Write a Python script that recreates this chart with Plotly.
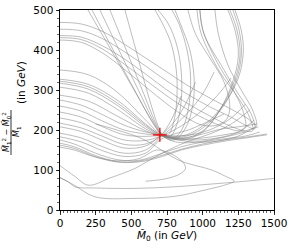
import plotly.graph_objects as go

# ---- data ----
true_m0 = [700]
true_dm = [188]

# upper family: start high on the left edge, bulge at right, exit at the top
h1_x = [0, 150, 300, 450, 600, 750, 900, 1050, 1200, 1310, 1378, 1350, 1270, 1180, 1110, 1086]
h1_y = [469, 465, 446, 415, 380, 345, 310, 280, 252, 230, 212, 250, 300, 360, 440, 500]
h2_x = [0, 150, 300, 450, 600, 750, 900, 1050, 1200, 1300, 1365, 1340, 1250, 1150, 1010, 981]
h2_y = [452, 448, 428, 396, 360, 322, 288, 258, 232, 212, 203, 240, 290, 350, 440, 500]
h3_x = [0, 150, 300, 450, 600, 750, 900, 1050, 1180, 1290, 1350, 1325, 1240, 1120, 990, 960]
h3_y = [436, 432, 410, 378, 340, 300, 265, 235, 212, 198, 198, 235, 285, 345, 440, 500]
h4_x = [0, 150, 300, 450, 600, 750, 900, 1050, 1170, 1260, 1300, 1280, 1200, 1100, 1000, 980]
h4_y = [431, 426, 402, 365, 325, 285, 250, 222, 205, 198, 208, 250, 310, 370, 450, 500]
h5_x = [0, 150, 300, 450, 600, 750, 900, 1000, 1100, 1170, 1190, 1150, 1050, 950, 897]
h5_y = [425, 419, 392, 352, 308, 265, 228, 212, 212, 228, 262, 320, 380, 440, 500]

# middle family: start on the left edge, pass the true point, bulge right, exit at the top
m1_x = [0, 200, 400, 600, 700, 850, 1000, 1150, 1250, 1285, 1270, 1226]
m1_y = [350, 338, 295, 225, 192, 185, 210, 265, 330, 395, 450, 500]
m2_x = [0, 200, 400, 600, 700, 850, 1000, 1150, 1240, 1272, 1255, 1212]
m2_y = [327, 314, 275, 215, 190, 182, 205, 262, 330, 392, 450, 500]
m3_x = [0, 200, 400, 600, 700, 850, 1000, 1130, 1225, 1262, 1240, 1191]
m3_y = [322, 308, 268, 212, 189, 178, 198, 255, 325, 388, 450, 500]
m4_x = [0, 200, 400, 600, 700, 850, 1000, 1120, 1210, 1250, 1230, 1177]
m4_y = [317, 302, 262, 208, 188, 175, 195, 250, 320, 385, 445, 500]
m5_x = [0, 200, 400, 600, 700, 850, 1000, 1100, 1180, 1250, 1380]
m5_y = [307, 292, 252, 203, 187, 180, 190, 200, 205, 208, 215]
m6_x = [0, 200, 400, 600, 700, 850, 1000, 1150, 1300, 1390]
m6_y = [287, 272, 235, 198, 186, 178, 180, 188, 198, 208]

# lines entering from the top-left, through the true point, up to the top again
u1_x = [196, 350, 500, 650, 720, 800, 880, 930, 940, 910, 850, 806]
u1_y = [500, 405, 312, 220, 185, 175, 205, 260, 330, 400, 460, 500]
u2_x = [224, 380, 530, 660, 720, 790, 860, 905, 915, 890, 840, 785]
u2_y = [500, 395, 295, 212, 186, 178, 205, 265, 335, 400, 460, 500]
u3_x = [280, 420, 560, 670, 720, 790, 880, 1000, 1150, 1300]
u3_y = [500, 395, 292, 212, 186, 172, 168, 172, 182, 195]
u4_x = [350, 470, 590, 680, 720, 770, 820, 850, 850, 820, 760, 687]
u4_y = [500, 395, 288, 210, 187, 183, 215, 275, 345, 410, 465, 500]
u5_x = [455, 540, 620, 690, 720, 760, 800, 820, 815, 780, 720, 666]
u5_y = [500, 390, 285, 208, 188, 188, 225, 285, 350, 415, 465, 500]

# lower family: start lower on the left edge, dip, then pass the true point
l1_x = [0, 150, 300, 450, 600, 700, 820, 950, 1100, 1250, 1380]
l1_y = [275, 262, 238, 212, 195, 188, 176, 170, 172, 185, 210]
l2_x = [0, 150, 300, 450, 600, 700, 820, 950, 1100, 1250, 1360]
l2_y = [260, 247, 222, 200, 190, 186, 178, 175, 180, 195, 225]
l3_x = [0, 150, 300, 450, 600, 700, 820, 950, 1080, 1200, 1300]
l3_y = [245, 232, 208, 188, 184, 186, 185, 190, 205, 230, 265]
l4_x = [0, 150, 300, 450, 600, 700, 800, 900, 1000, 1100, 1200]
l4_y = [230, 218, 195, 175, 174, 184, 200, 222, 250, 285, 330]
l5_x = [0, 150, 300, 450, 600, 700, 800, 900, 1000, 1080]
l5_y = [217, 205, 184, 164, 165, 183, 210, 245, 290, 345]
l6_x = [0, 150, 300, 450, 600, 700, 800, 880, 950]
l6_y = [208, 196, 174, 155, 160, 185, 220, 265, 320]
l7_x = [0, 150, 300, 450, 600, 700, 780, 850]
l7_y = [192, 180, 158, 142, 150, 182, 225, 285]
l8_x = [0, 150, 300, 450, 600, 700, 800, 900, 1000, 1150]
l8_y = [183, 170, 148, 134, 142, 175, 190, 200, 215, 240]
l9_x = [0, 100, 250, 400, 550, 700, 850, 1000, 1150, 1300, 1400]
l9_y = [175, 165, 142, 126, 124, 140, 158, 170, 178, 185, 195]
l10_x = [0, 100, 250, 400, 550, 700, 850, 1000, 1150, 1300, 1450]
l10_y = [167, 158, 136, 121, 120, 132, 150, 162, 172, 180, 188]
l11_x = [0, 100, 250, 400, 550, 700, 850, 1000, 1150, 1300, 1450]
l11_y = [162, 154, 133, 120, 122, 135, 152, 165, 175, 182, 190]
l12_x = [0, 100, 250, 400, 550, 680, 780, 860, 880, 840, 740, 600]
l12_y = [157, 150, 132, 123, 128, 150, 140, 120, 104, 90, 78, 72]

# bottom curves
b1_x = [0, 60, 105, 250, 526, 800, 1100, 1300, 1500]
b1_y = [81, 70, 58, 55, 54, 58, 66, 72, 79]
b2_x = [0, 100, 245, 526, 800, 1016, 1170, 1221, 1150, 1063, 829, 596, 400, 250]
b2_y = [81, 62, 33, 29, 34, 50, 64, 72, 86, 100, 125, 175, 200, 215]
b3_x = [0, 100, 199, 350, 526, 630, 760, 900, 1050, 1200, 1330]
b3_y = [111, 85, 62, 80, 104, 125, 150, 172, 190, 215, 250]

curves = [
    (h1_x, h1_y), (h2_x, h2_y), (h3_x, h3_y), (h4_x, h4_y), (h5_x, h5_y),
    (m1_x, m1_y), (m2_x, m2_y), (m3_x, m3_y), (m4_x, m4_y), (m5_x, m5_y), (m6_x, m6_y),
    (u1_x, u1_y), (u2_x, u2_y), (u3_x, u3_y), (u4_x, u4_y), (u5_x, u5_y),
    (l1_x, l1_y), (l2_x, l2_y), (l3_x, l3_y), (l4_x, l4_y), (l5_x, l5_y), (l6_x, l6_y),
    (l7_x, l7_y), (l8_x, l8_y), (l9_x, l9_y), (l10_x, l10_y), (l11_x, l11_y), (l12_x, l12_y),
    (b1_x, b1_y), (b2_x, b2_y), (b3_x, b3_y),
]

x_ticks = [0, 250, 500, 750, 1000, 1250, 1500]
y_ticks = [0, 100, 200, 300, 400, 500]

fig = go.Figure()
for cx, cy in curves:
    fig.add_trace(go.Scatter(
        x=cx, y=cy, mode="lines",
        line=dict(color="rgba(128,128,128,0.75)", width=0.7, shape="spline", smoothing=1.0),
        hoverinfo="skip", showlegend=False, cliponaxis=True))

fig.add_trace(go.Scatter(
    x=true_m0, y=true_dm, mode="markers",
    marker=dict(symbol="cross-thin", size=10, line=dict(color="red", width=1.3), color="red"),
    hoverinfo="skip", showlegend=False))

FONT = "DejaVu Sans"
L, R, T, B = 60, 21, 10, 39
W, H = 295, 249
pw, ph = W - L - R, H - T - B

def px2paper(px, py):
    return (px - L) / pw, (H - B - py) / ph

fig.update_layout(
    width=W, height=H,
    margin=dict(l=L, r=R, t=T, b=B, pad=0),
    paper_bgcolor="white", plot_bgcolor="white",
    font=dict(family=FONT, size=10.5, color="black"),
    hovermode=False,
    xaxis=dict(
        range=[0, 1500], tickvals=x_ticks, ticktext=[str(v) for v in x_ticks],
        showgrid=False, zeroline=False, showline=True, linecolor="black", linewidth=1,
        mirror=True, ticks="outside", ticklen=3.5, tickwidth=0.8, tickcolor="black",
        automargin=False,
        minor=dict(dtick=25, ticks="outside", ticklen=2, tickwidth=0.6, tickcolor="black"),
        title=dict(text="<i>M̃</i><sub>0</sub> (in <i>GeV</i>)", font=dict(size=10.5), standoff=0),
    ),
    yaxis=dict(
        range=[0, 500], tickvals=y_ticks, ticktext=[str(v) for v in y_ticks],
        showgrid=False, zeroline=False, showline=True, linecolor="black", linewidth=1,
        mirror=True, ticks="outside", ticklen=3.5, tickwidth=0.8, tickcolor="black",
        automargin=False,
        minor=dict(dtick=20, ticks="outside", ticklen=2, tickwidth=0.6, tickcolor="black"),
    ),
)

# y-axis label built as a rotated fraction
nx, ny = px2paper(6, 132)
dx, dy = px2paper(16, 132)
gx, gy = px2paper(21, 83)
fig.add_annotation(x=nx, y=ny, xref="paper", yref="paper", textangle=-90, showarrow=False,
                   text="<i>M̃</i><sub>1</sub><sup>2</sup> − <i>M̃</i><sub>0</sub><sup>2</sup>",
                   font=dict(size=8, family=FONT), xanchor="center", yanchor="middle")
fig.add_annotation(x=dx, y=dy, xref="paper", yref="paper", textangle=-90, showarrow=False,
                   text="<i>M̃</i><sub>1</sub>", font=dict(size=8, family=FONT),
                   xanchor="center", yanchor="middle")
fig.add_annotation(x=gx, y=gy, xref="paper", yref="paper", textangle=-90, showarrow=False,
                   text="(in <i>GeV</i>)", font=dict(size=10.5, family=FONT),
                   xanchor="center", yanchor="middle")
bx0, by0 = px2paper(11, 155)
bx1, by1 = px2paper(11, 110)
fig.add_shape(type="line", xref="paper", yref="paper", x0=bx0, y0=by0, x1=bx1, y1=by1,
              line=dict(color="black", width=0.8))

fig.write_html("out.html", config={"displayModeBar": False, "staticPlot": True},
               post_script="document.body.style.margin='0';")
